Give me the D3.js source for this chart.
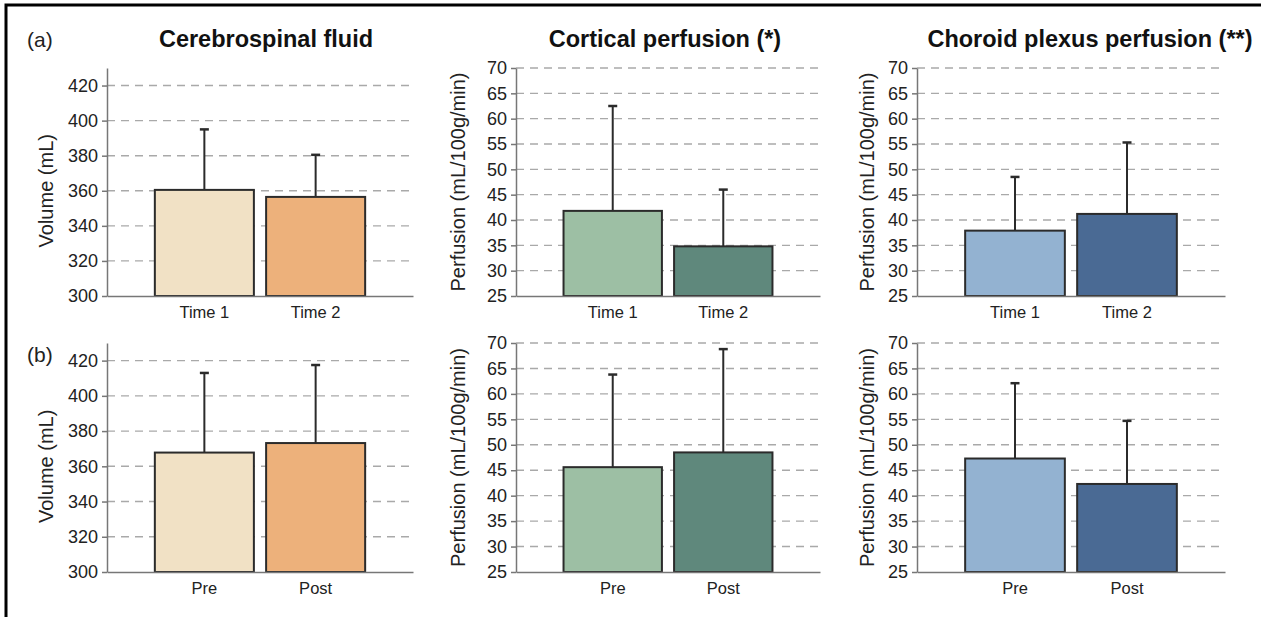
<!DOCTYPE html>
<html>
<head>
<meta charset="utf-8">
<script src="https://cdn.jsdelivr.net/npm/d3@7"></script>
<style>
  body { margin: 0; background: #fff; }
  svg { display: block; font-family: "Liberation Sans", Arial, sans-serif; }
</style>
</head>
<body>
<div id="chart"></div>
<script>
"use strict";

// categories
const timeLabels = ["Time 1", "Time 2"];
const prePostLabels = ["Pre", "Post"];

// means and SD (upper whisker only)
const csfTimeMean = [360.5, 356.5];
const csfTimeSd = [34.5, 24];
const cortTimeMean = [41.8, 34.8];
const cortTimeSd = [20.7, 11.2];
const choroidTimeMean = [37.9, 41.2];
const choroidTimeSd = [10.6, 14.1];

const csfPrePostMean = [367.8, 373.2];
const csfPrePostSd = [45.2, 44.3];
const cortPrePostMean = [45.6, 48.5];
const cortPrePostSd = [18.2, 20.3];
const choroidPrePostMean = [47.3, 42.3];
const choroidPrePostSd = [14.8, 12.4];

// axis ticks
const volumeTicks = [300, 320, 340, 360, 380, 400, 420];
const perfTicks = [25, 30, 35, 40, 45, 50, 55, 60, 65, 70];

const titles = ["Cerebrospinal fluid", "Cortical perfusion (*)", "Choroid plexus perfusion (**)"];
const yLabels = ["Volume (mL)", "Perfusion (mL/100g/min)", "Perfusion (mL/100g/min)"];
const rowLetters = ["(a)", "(b)"];

const colorsCsf = ["#f1e1c5", "#edb17b"];
const colorsCort = ["#9dbfa4", "#5f887c"];
const colorsChoroid = ["#93b2d1", "#4a6a94"];

const W = 1261, H = 617;

const svg = d3.select("#chart").append("svg")
  .attr("width", W)
  .attr("height", H);

// outer frame (only top and left edges are inside the picture)
svg.append("rect")
  .attr("x", 6).attr("y", 5)
  .attr("width", W + 20).attr("height", H + 20)
  .attr("fill", "none")
  .attr("stroke", "#000")
  .attr("stroke-width", 3);

// layout of columns / rows
const cols = [
  { x0: 107, x1: 413, titleX: 266, labelOff: 54 },
  { x0: 516, x1: 820, titleX: 665, labelOff: 51 },
  { x0: 917, x1: 1225, titleX: 1090, labelOff: 43 },
];
const rows = [
  { top: 68, bottom: 296, cats: timeLabels, letterY: 47 },
  { top: 343, bottom: 572, cats: prePostLabels, letterY: 362 },
];

const panels = [
  { row: 0, col: 0, mean: csfTimeMean, sd: csfTimeSd, domain: [300, 430], ticks: volumeTicks, colors: colorsCsf },
  { row: 0, col: 1, mean: cortTimeMean, sd: cortTimeSd, domain: [25, 70], ticks: perfTicks, colors: colorsCort },
  { row: 0, col: 2, mean: choroidTimeMean, sd: choroidTimeSd, domain: [25, 70], ticks: perfTicks, colors: colorsChoroid },
  { row: 1, col: 0, mean: csfPrePostMean, sd: csfPrePostSd, domain: [300, 430], ticks: volumeTicks, colors: colorsCsf },
  { row: 1, col: 1, mean: cortPrePostMean, sd: cortPrePostSd, domain: [25, 70], ticks: perfTicks, colors: colorsCort },
  { row: 1, col: 2, mean: choroidPrePostMean, sd: choroidPrePostSd, domain: [25, 70], ticks: perfTicks, colors: colorsChoroid },
];

const drawPanel = function (p) {
  const c = cols[p.col];
  const r = rows[p.row];
  const data = r.cats.map((cat, i) => ({ cat: cat, mean: p.mean[i], sd: p.sd[i], color: p.colors[i] }));

  const x = d3.scaleBand()
    .domain(r.cats)
    .range([c.x0, c.x1])
    .paddingInner(0.11)
    .paddingOuter(0.43);

  const y = d3.scaleLinear()
    .domain(p.domain)
    .range([r.bottom, r.top]);

  const g = svg.append("g");

  // dashed grid
  g.selectAll("line.grid")
    .data(p.ticks.slice(1))
    .enter()
    .append("line")
    .attr("class", "grid")
    .attr("x1", c.x0)
    .attr("x2", c.x1)
    .attr("y1", (d) => y(d))
    .attr("y2", (d) => y(d))
    .attr("stroke", "#a9a9a9")
    .attr("stroke-width", 1.4)
    .attr("stroke-dasharray", "8,6");

  // error bars (upper only), drawn before bars
  g.selectAll("line.err")
    .data(data)
    .enter()
    .append("line")
    .attr("x1", (d) => x(d.cat) + x.bandwidth() / 2)
    .attr("x2", (d) => x(d.cat) + x.bandwidth() / 2)
    .attr("y1", (d) => y(d.mean))
    .attr("y2", (d) => y(d.mean + d.sd))
    .attr("stroke", "#2b2b2b")
    .attr("stroke-width", 2);

  g.selectAll("line.cap")
    .data(data)
    .enter()
    .append("line")
    .attr("x1", (d) => x(d.cat) + x.bandwidth() / 2 - 4.5)
    .attr("x2", (d) => x(d.cat) + x.bandwidth() / 2 + 4.5)
    .attr("y1", (d) => y(d.mean + d.sd))
    .attr("y2", (d) => y(d.mean + d.sd))
    .attr("stroke", "#2b2b2b")
    .attr("stroke-width", 2.5);

  // bars
  g.selectAll("rect.bar")
    .data(data)
    .enter()
    .append("rect")
    .attr("x", (d) => x(d.cat))
    .attr("width", x.bandwidth())
    .attr("y", (d) => y(d.mean))
    .attr("height", (d) => y(p.domain[0]) - y(d.mean))
    .attr("fill", (d) => d.color)
    .attr("stroke", "#2b2b2b")
    .attr("stroke-width", 2);

  // y axis
  const yAxis = g.append("g")
    .attr("transform", `translate(${c.x0},0)`)
    .call(d3.axisLeft(y).tickValues(p.ticks).tickSize(5).tickPadding(4).tickSizeOuter(0));
  yAxis.select(".domain").attr("stroke", "#777").attr("stroke-width", 1.5);
  yAxis.selectAll(".tick line").attr("stroke", "#777").attr("stroke-width", 1.5);
  yAxis.selectAll(".tick text")
    .attr("font-size", "18px")
    .attr("fill", "#222")
    .attr("font-family", "Liberation Sans, Arial, sans-serif");

  // x axis
  const xAxis = g.append("g")
    .attr("transform", `translate(0,${r.bottom})`)
    .call(d3.axisBottom(x).tickSize(0).tickPadding(10).tickSizeOuter(0));
  xAxis.select(".domain").attr("stroke", "#777").attr("stroke-width", 1.5);
  xAxis.selectAll(".tick text")
    .attr("font-size", "16.5px")
    .attr("fill", "#222")
    .attr("font-family", "Liberation Sans, Arial, sans-serif");

  // y label
  const yMid = (y(p.ticks[0]) + y(p.ticks[p.ticks.length - 1])) / 2;
  g.append("text")
    .text(yLabels[p.col])
    .attr("transform", `translate(${c.x0 - c.labelOff},${yMid}) rotate(-90)`)
    .attr("text-anchor", "middle")
    .attr("font-size", "20px")
    .attr("fill", "#222");

  // titles on top row only
  if (p.row === 0) {
    g.append("text")
      .text(titles[p.col])
      .attr("x", c.titleX)
      .attr("y", 47)
      .attr("text-anchor", "middle")
      .attr("font-size", "23.5px")
      .attr("font-weight", "bold")
      .attr("fill", "#111");
  }
};

panels.forEach(drawPanel);

// row letters
svg.selectAll("text.letter")
  .data(rows)
  .enter()
  .append("text")
  .attr("class", "letter")
  .text((d, i) => rowLetters[i])
  .attr("x", 27)
  .attr("y", (d) => d.letterY)
  .attr("font-size", "21px")
  .attr("fill", "#222");
</script>
</body>
</html>
